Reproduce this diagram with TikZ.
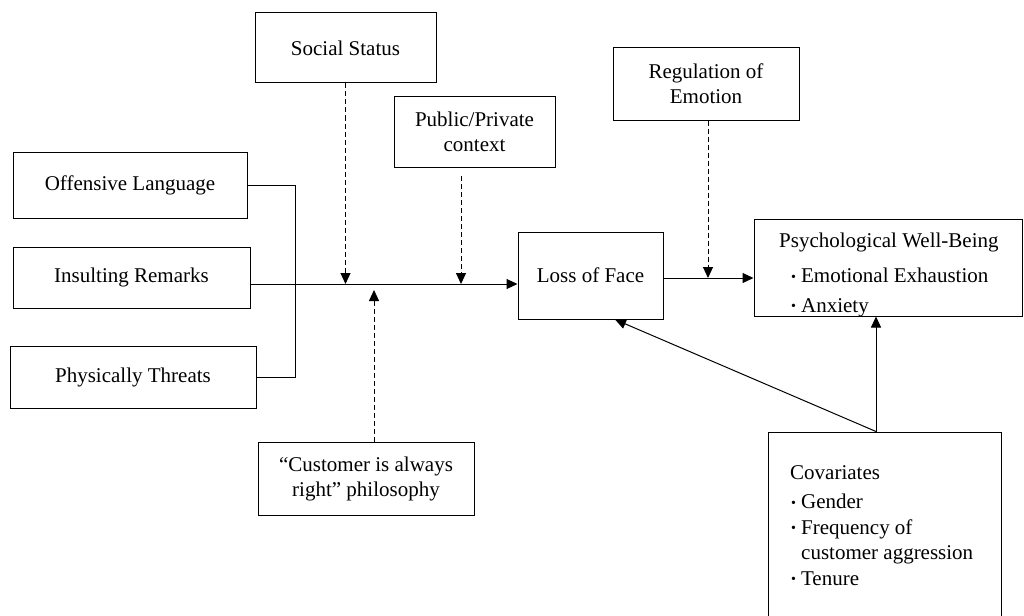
\documentclass[tikz,border=0pt]{standalone}
\usepackage{fontspec}
\setmainfont{Liberation Serif}
\usetikzlibrary{arrows.meta,calc}
\newcommand{\mybul}{\raisebox{1.5pt}{\fontsize{14}{14}\selectfont •}\hspace{5pt}}
\begin{document}
\begin{tikzpicture}[x=1pt,y=-1pt,
  box/.style={draw, line width=1pt, inner sep=0pt, align=center, font=\fontsize{21}{25}\selectfont},
  txt/.style={inner sep=0pt, align=left, font=\fontsize{21}{25.5}\selectfont},
  con/.style={line width=1pt},
  arr/.style={con, -{Triangle[length=11pt,width=10pt]}},
  dsh/.style={arr, dash pattern=on 5pt off 3pt}]
\useasboundingbox (0,0) rectangle (1024,615);
\fill[white] (0,0) rectangle (1024,615);
% boxes
\node[box, minimum width=234pt, minimum height=66pt] (ol) at (130,185) {Offensive Language};
\node[box, minimum width=237pt, minimum height=61pt] (ir) at (131.5,277.5) {Insulting Remarks};
\node[box, minimum width=246pt, minimum height=62pt] (pt) at (133,377) {Physically Threats};
\node[box, minimum width=181pt, minimum height=70pt] (ss) at (345.5,48) {Social Status};
\node[box, minimum width=161pt, minimum height=70pt] (pp) at (474.5,132) {Public/Private\\context};
\node[box, minimum width=145pt, minimum height=87pt] (lof) at (590.5,275.5) {Loss of Face};
\node[box, minimum width=186pt, minimum height=72pt] (reg) at (706,84) {Regulation of\\Emotion};
\node[box, minimum width=216pt, minimum height=73pt] (cu) at (366,478.5) {``Customer is always\\right'' philosophy};
\node[box, minimum width=268pt, minimum height=97pt] (pwb) at (888,267.5) {};
\node[txt, anchor=north west] (pwbt) at (779,232.5) {Psychological Well-Being\\[10pt]\hspace*{12pt}\mybul Emotional Exhaustion\\[4pt]\hspace*{12pt}\mybul Anxiety};
\node[box, minimum width=233pt, minimum height=208pt] (cov) at (884.5,536) {};
\node[txt, anchor=north west] (covt) at (790,465) {Covariates\\[4pt]\hspace*{1pt}\mybul Gender\\\hspace*{1pt}\mybul Frequency of\\\hspace*{11pt}customer aggression\\\hspace*{1pt}\mybul Tenure};
% helper coordinates
\coordinate (mainy) at (0,284);
\coordinate (bx) at (295,284);
\coordinate (ppx) at (461,0);
\coordinate (cux) at (374,290);
\coordinate (lofy) at (0,278);
\coordinate (cx) at (876,0);
\coordinate (lx) at (615,0);
% connectors
\draw[con] (ol.east) -- (ol.east -| bx) -- (pt.east -| bx) -- (pt.east);
\draw[arr] (ir.east |- mainy) -- (lof.west |- mainy);
\draw[dsh] (ss.south) -- (ss.south |- mainy);
\draw[dsh] ($(pp.south -| ppx)+(0,8)$) -- (ppx |- mainy);
\draw[dsh] (cu.north -| cux) -- (cux);
\draw[dsh] ($(reg.south)+(2,0)$) -- ($(reg.south |- lofy)+(2,0)$);
\draw[arr] (lof.east |- lofy) -- (pwb.west |- lofy);
\draw[arr] (cov.north -| cx) -- (pwb.south -| cx);
\draw[arr] (cov.north -| cx) -- (lof.south -| lx);
\end{tikzpicture}
\end{document}
